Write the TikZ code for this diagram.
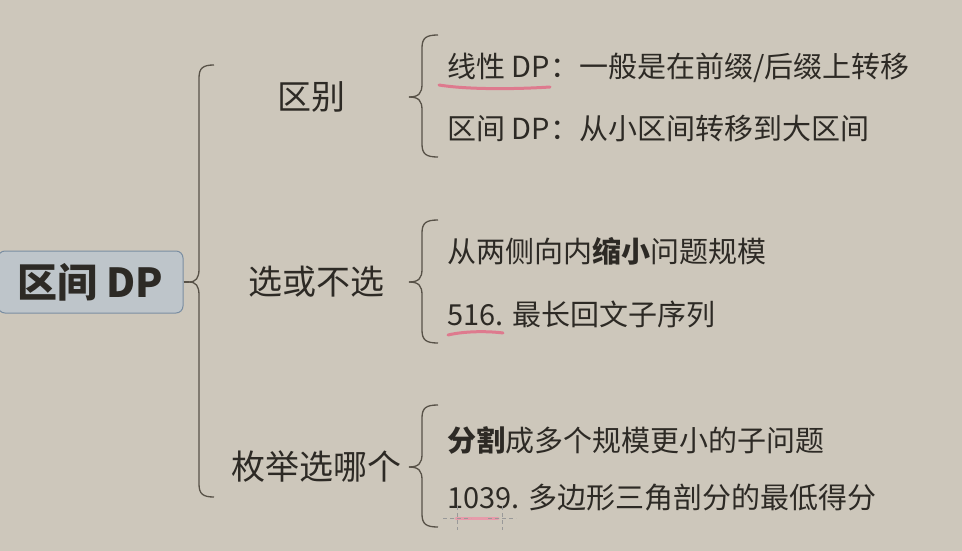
\documentclass[tikz,border=0pt]{standalone}
\usepackage{fontspec}
\setmainfont{Noto Sans CJK SC}
\usepackage{tikz}
\definecolor{paper}{RGB}{205,199,187}
\definecolor{ink}{RGB}{45,42,37}
\definecolor{bracecol}{RGB}{88,82,72}
\definecolor{rootfill}{RGB}{190,197,202}
\definecolor{rootline}{RGB}{122,142,162}
\definecolor{pen}{RGB}{222,122,142}
\tikzstyle{root} = [draw=rootline, fill=rootfill, rounded corners=7pt,
    line width=1pt, minimum width=185pt, minimum height=62pt, inner sep=0pt,
    font=\fontsize{40}{48}\selectfont\bfseries, text=ink]
\tikzstyle{topic} = [font=\fontsize{34}{40}\selectfont, text=ink, inner sep=0pt]
\tikzstyle{leaf} = [anchor=west, font=\fontsize{29}{35}\selectfont, text=ink, inner sep=0pt]
\tikzstyle{bracket} = [draw=bracecol, line width=1.3pt]
\tikzstyle{marker} = [draw=pen, line width=3pt, line cap=round]
\tikzstyle{handle} = [draw=gray!80, line width=1pt, dash pattern=on 4pt off 3pt]
% curly brace: tip x, stem x, end x, top y, middle y, bottom y
\newcommand{\curly}[6]{%
    \draw[bracket] (#1,#5) .. controls (#2-3,#5) and (#2,#5-4) .. (#2,#5-13)
        -- (#2,#4+13) .. controls (#2,#4+3) and (#2+4,#4) .. (#3,#4);
    \draw[bracket] (#1,#5) .. controls (#2-3,#5) and (#2,#5+4) .. (#2,#5+13)
        -- (#2,#6-13) .. controls (#2,#6-3) and (#2+4,#6) .. (#3,#6);}

\begin{document}
\begin{tikzpicture}[x=1pt,y=-1pt]
\useasboundingbox[fill=paper] (0,0) rectangle (962,551);
    \node[root] (dp) at (90.5,282) {区间 DP};  %root
    %topics
    \node[topic] (diff) at (311,97) {区别};
    \node[topic] (choose) at (316,282) {选或不选};
    \node[topic] (enum) at (316,467) {枚举选哪个};
    %leaves
    \node[leaf] (lin) at (447,68) {线性 DP：一般是在前缀/后缀上转移};
    \node[leaf] (itv) at (447,129) {区间 DP：从小区间转移到大区间};
    \node[leaf] (shrink) at (447,251) {从两侧向内\textbf{缩小}问题规模};
    \node[leaf] (p516) at (447,314) {516. 最长回文子序列};
    \node[leaf] (split) at (447,440) {\textbf{分割}成多个规模更小的子问题};
    \node[leaf] (p1039) at (447,498) {1039. 多边形三角剖分的最低得分};
    %braces
    \coordinate (tip) at (189,282);
    \draw[bracket] (dp.east) -- (tip);
    \curly{189}{199}{214}{65}{282}{497}
    \foreach \m/\t/\b in {97/35/157, 282/220/343, 467/405/527}
    {\curly{409}{422}{438}{\t}{\m}{\b}}
    %pen marks
    \draw[marker] (439,85) .. controls (470,90) and (520,89) .. (550,87);
    \draw[marker] (448,335) .. controls (465,331) and (488,331) .. (503,333);
    \draw[marker, draw=pen!75] (456,518) -- (498,518);
    \foreach \x in {457,502}
    {\draw[handle] (\x-14,518) -- (\x+14,518);
     \draw[handle] (\x,506) -- (\x,530);}
\end{tikzpicture}
\end{document}
